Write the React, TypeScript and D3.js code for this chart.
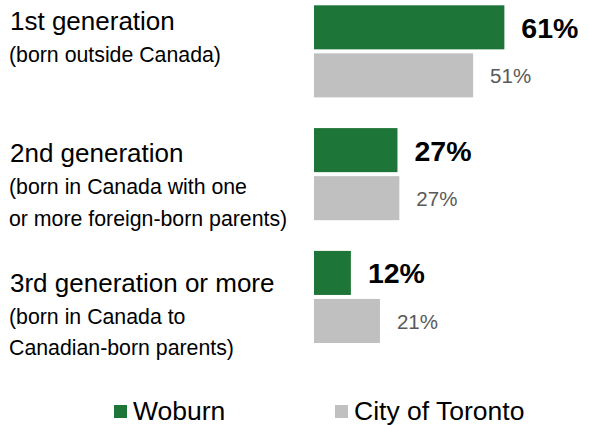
import React, { useRef, useEffect } from 'react';
import * as d3 from 'd3';

const categories = ['1st generation', '2nd generation', '3rd generation or more'];
const subtitles = [
  ['(born outside Canada)'],
  ['(born in Canada with one', 'or more foreign-born parents)'],
  ['(born in Canada to', 'Canadian-born parents)'],
];
const series = ['Woburn', 'City of Toronto'];
const woburn = [60.9, 26.7, 11.8];
const toronto = [50.9, 27.3, 21.1];

const W = 590;
const H = 425;
const GREEN = '#1e7538';
const GRAY = '#c0c0c0';
const FONT = 'Liberation Sans, Arial, sans-serif';
// title baseline offset from the top of each group
const titleOffset = [25, 34, 41];

const App = () => {
  const svgRef = useRef<SVGSVGElement>(null);

  useEffect(() => {
    const svg = d3.select(svgRef.current);
    svg.selectAll('*').remove();

    const x = d3.scaleLinear().domain([0, 100]).range([314, 314 + 312.6]);
    const y = d3.scaleBand().domain(categories).range([5.3, 343]).paddingInner(0.25).paddingOuter(0);
    const sub = d3.scaleBand().domain(series).range([0, y.bandwidth()]).paddingInner(4 / 48);
    const colors = d3.scaleOrdinal<string>().domain(series).range([GREEN, GRAY]);

    const rows = categories.map((c, i) => ({ cat: c, i, vals: [woburn[i], toronto[i]] }));

    const g = svg.selectAll('g.group').data(rows).enter().append('g')
      .attr('class', 'group')
      .attr('transform', d => `translate(0, ${y(d.cat)})`);

    // bars
    g.selectAll('rect').data(d => d.vals.map((v, j) => ({ v, s: series[j] }))).enter().append('rect')
      .attr('x', x(0))
      .attr('y', d => sub(d.s)!)
      .attr('width', d => x(d.v) - x(0))
      .attr('height', sub.bandwidth())
      .attr('fill', d => colors(d.s));

    // value labels
    g.selectAll('text.val').data(d => d.vals.map((v, j) => ({ v, s: series[j], j }))).enter().append('text')
      .attr('class', 'val')
      .attr('x', d => x(d.v) + 17)
      .attr('y', d => sub(d.s)! + sub.bandwidth() / 2 + (d.j === 0 ? 10.5 : 7.7))
      .attr('font-family', FONT)
      .attr('font-size', d => (d.j === 0 ? 28.5 : 20.5))
      .attr('font-weight', d => (d.j === 0 ? 'bold' : 'normal'))
      .attr('fill', d => (d.j === 0 ? '#000' : '#595959'))
      .text(d => `${Math.round(d.v)}%`);

    // category labels
    g.append('text')
      .attr('x', 10)
      .attr('y', d => titleOffset[d.i])
      .attr('font-family', FONT)
      .attr('font-size', 26)
      .attr('fill', '#000')
      .text(d => d.cat);

    g.each(function (d) {
      d3.select(this).selectAll('text.sub').data(subtitles[d.i]).enter().append('text')
        .attr('class', 'sub')
        .attr('x', 9)
        .attr('y', (_, k) => titleOffset[d.i] + 32 + k * 31.5)
        .attr('font-family', FONT)
        .attr('font-size', 21.3)
        .attr('fill', '#000')
        .text(t => t);
    });

    // legend
    const legendX = [114, 335];
    const lg = svg.selectAll('g.legend').data(series).enter().append('g')
      .attr('class', 'legend')
      .attr('transform', (_, i) => `translate(${legendX[i]}, 405)`);
    lg.append('rect').attr('width', 13).attr('height', 13).attr('fill', d => colors(d));
    lg.append('text')
      .attr('x', 19)
      .attr('y', 15)
      .attr('font-family', FONT)
      .attr('font-size', 26.5)
      .attr('fill', '#000')
      .text(d => d);
  }, []);

  return (
    <svg ref={svgRef} width={W} height={H}
      style={{ position: 'absolute', left: 0, top: 0, background: '#fff' }} />
  );
};

export default App;
